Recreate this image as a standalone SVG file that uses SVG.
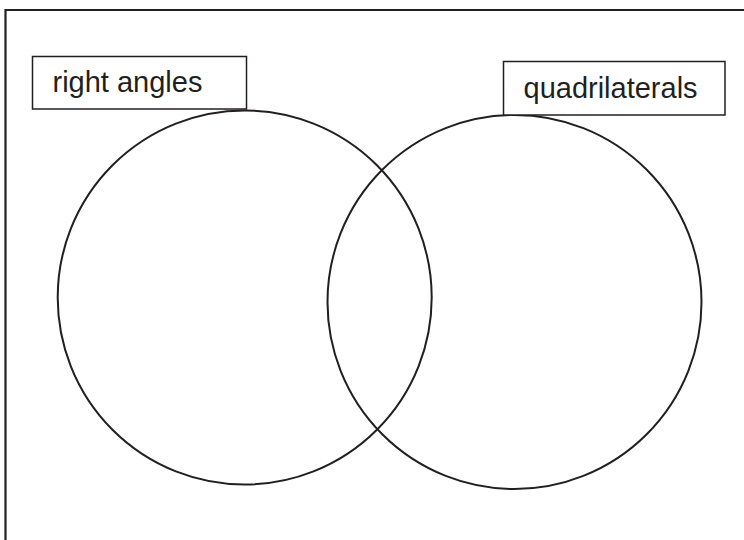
<svg xmlns="http://www.w3.org/2000/svg" width="744" height="540" viewBox="0 0 744 540">
<style>
.frame{fill:none;stroke:#231f20;stroke-width:2.2}
.set{fill:none;stroke:#231f20;stroke-width:2}
.box{fill:#fff;stroke:#231f20;stroke-width:1.5}
.lbl{font-family:"Liberation Sans",Arial,sans-serif;font-size:29px;fill:#231f20}
</style>
<rect width="744" height="540" fill="#fff"/>
<path class="frame" d="M5.5,540 V10 H744"/>
<g id="right-angles-circle"><circle class="set" cx="244.7" cy="297.5" r="187"/></g>
<g id="quadrilaterals-circle"><circle class="set" cx="514.5" cy="302" r="187"/></g>
<g id="right-angles-label"><rect class="box" x="32.5" y="56.5" width="214" height="52.5"/><text class="lbl" x="52.5" y="91.7">right angles</text></g>
<g id="quadrilaterals-label"><rect class="box" x="503.5" y="61.5" width="221.5" height="53.5"/><text class="lbl" x="523.5" y="98">quadrilaterals</text></g>
</svg>
